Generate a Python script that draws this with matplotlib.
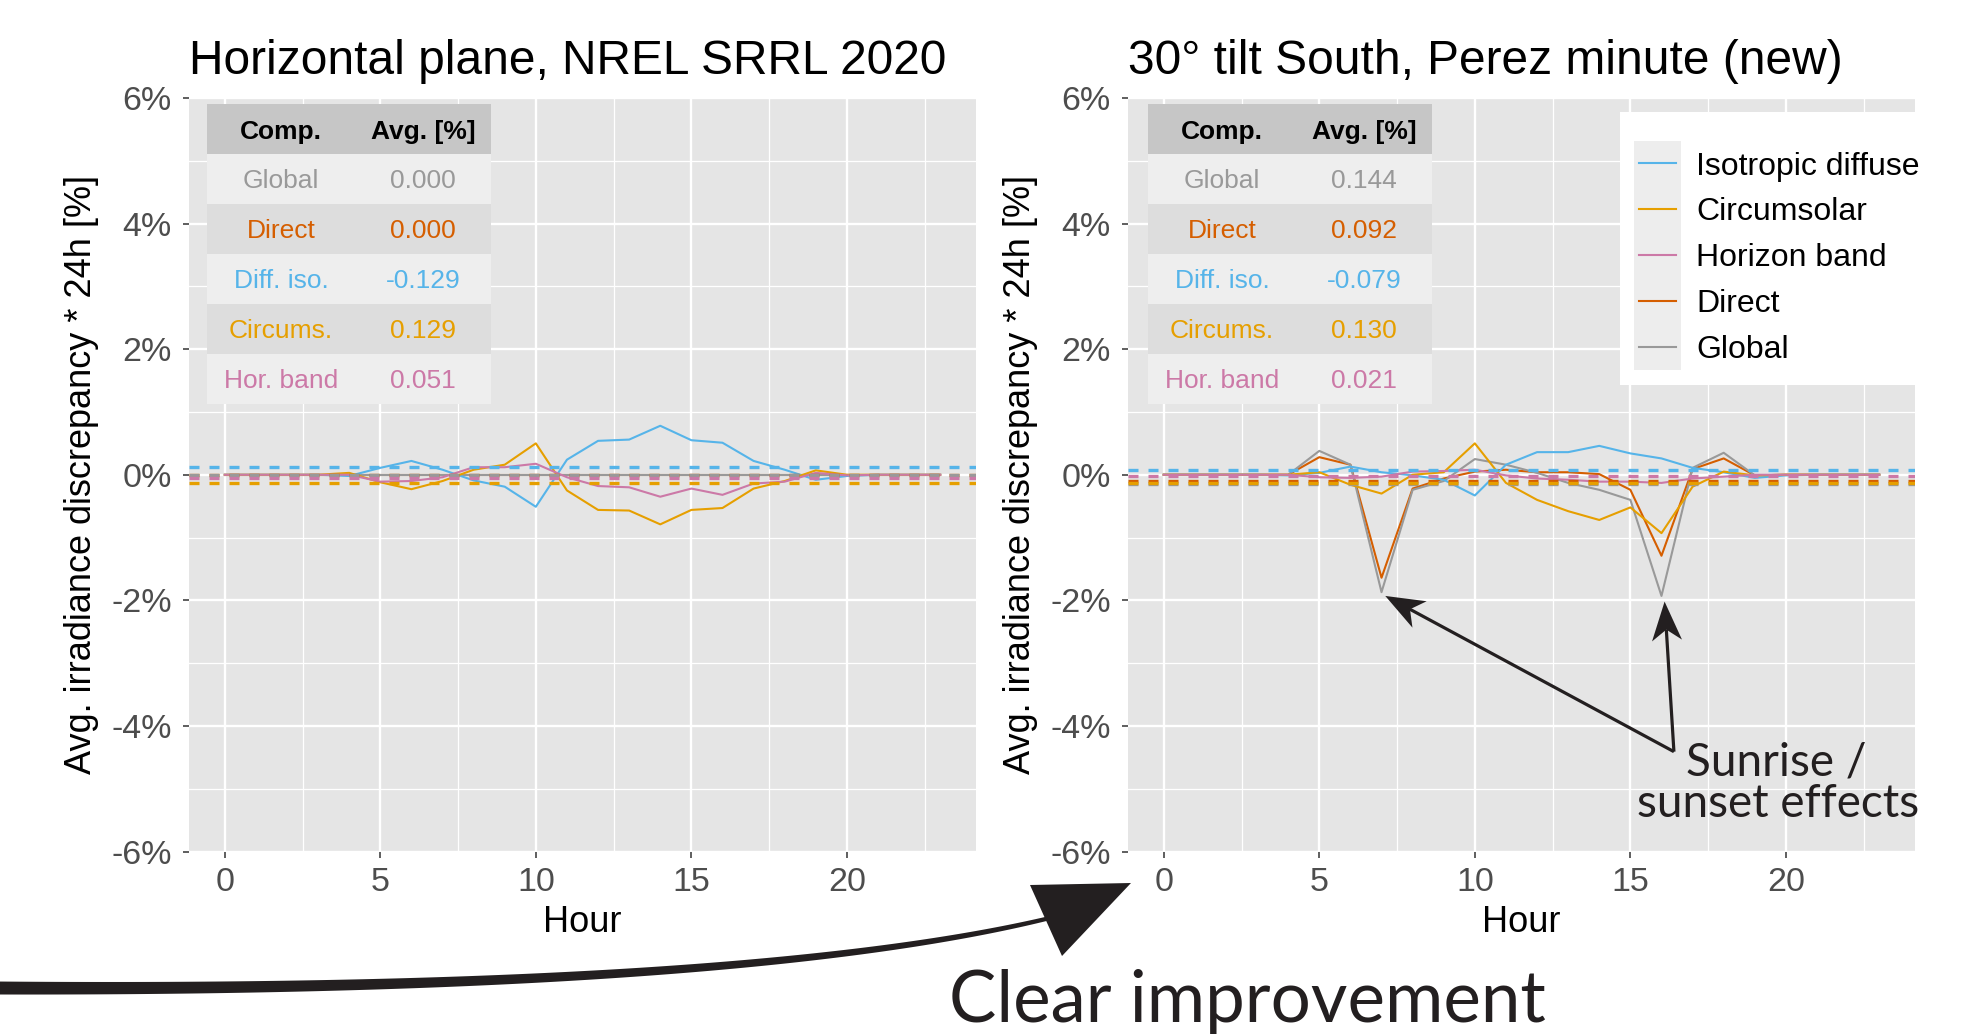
import numpy as np
import matplotlib.pyplot as plt
from matplotlib.patches import Rectangle, Polygon
from matplotlib.lines import Line2D
from matplotlib.transforms import Affine2D, IdentityTransform

plt.rcParams['font.family'] = ['Liberation Sans', 'DejaVu Sans']

W, H = 1972, 1034
INK = '#231F20'

hours = np.arange(24)
comp_colors = {'Isotropic diffuse': '#56B4E9', 'Circumsolar': '#E69F00',
               'Horizon band': '#CC79A7', 'Direct': '#D55E00', 'Global': '#999999'}
legend_order = ['Isotropic diffuse', 'Circumsolar', 'Horizon band', 'Direct', 'Global']
draw_order = ['Direct', 'Global', 'Isotropic diffuse', 'Circumsolar', 'Horizon band']

# hourly discrepancy [%], horizontal plane (NREL SRRL 2020)
left_iso = [0, 0, 0, 0, -0.02, 0.11, 0.22, 0.08, -0.09, -0.19, -0.51, 0.24,
            0.54, 0.56, 0.78, 0.55, 0.51, 0.22, 0.08, -0.08, -0.02, 0, 0, 0]
left_circ = [0, 0, 0, 0, 0.03, -0.12, -0.23, -0.10, 0.08, 0.16, 0.50, -0.25,
             -0.56, -0.57, -0.79, -0.56, -0.53, -0.22, -0.10, 0.07, 0, 0, 0, 0]
left_hor = [0, 0, 0, 0, 0, -0.11, -0.10, -0.04, 0.12, 0.12, 0.175, -0.04,
            -0.18, -0.20, -0.35, -0.22, -0.32, -0.14, -0.11, 0.03, -0.01, 0, 0, 0]
left_direct = [0] * 24
left_global = [0] * 24

# hourly discrepancy [%], 30 deg tilt south (Perez minute)
right_iso = [0, 0, 0, 0, -0.01, 0.03, 0.13, 0.04, -0.01, -0.08, -0.33, 0.16,
             0.36, 0.36, 0.46, 0.34, 0.26, 0.11, 0.04, -0.05, -0.01, 0, 0, 0]
right_circ = [0, 0, 0, 0, 0, 0.04, -0.16, -0.30, 0.0, 0.04, 0.50, -0.13,
              -0.40, -0.58, -0.72, -0.52, -0.93, -0.19, 0.05, -0.01, 0, 0, 0, 0]
right_hor = [0, 0, 0, 0, 0, -0.04, -0.05, -0.03, 0.05, 0.06, 0.08, -0.01,
             -0.06, -0.08, -0.11, -0.11, -0.13, -0.06, -0.03, 0, 0, 0, 0, 0]
right_direct = [0, 0, 0, 0, 0, 0.28, 0.16, -1.64, -0.22, -0.06, 0.05, 0.08,
                0.04, 0.04, 0.01, -0.24, -1.29, 0.09, 0.26, -0.01, 0, 0, 0, 0]
right_global = [0, 0, 0, 0, 0, 0.38, 0.16, -1.87, -0.24, -0.10, 0.25, 0.16,
                0.03, -0.13, -0.24, -0.40, -1.93, 0.11, 0.35, -0.01, 0, 0, 0, 0]

# table averages (table order)
table_comps = ['Global', 'Direct', 'Isotropic diffuse', 'Circumsolar', 'Horizon band']
table_labels = ['Global', 'Direct', 'Diff. iso.', 'Circums.', 'Hor. band']
left_avg = [0.000, 0.000, -0.129, 0.129, 0.051]
right_avg = [0.144, 0.092, -0.079, 0.130, 0.021]

xticks = [0, 5, 10, 15, 20]
yticks = [-6, -4, -2, 0, 2, 4, 6]
ytick_labels = ['-6%', '-4%', '-2%', '0%', '2%', '4%', '6%']

titles = ['Horizontal plane, NREL SRRL 2020', '30° tilt South, Perez minute (new)']

fig = plt.figure(figsize=(W / 100, H / 100), dpi=100)
px = Affine2D().scale(1 / W, -1 / H).translate(0, 1) + fig.transFigure


def plot_panel(ax, series, avgs):
    ax.set_facecolor('#E5E5E5')
    for name in draw_order:
        ax.plot(hours, series[name], color=comp_colors[name], lw=1.5, zorder=3)
    # dashed lines at the negated table averages
    for name in draw_order:
        ax.axhline(-avgs[table_comps.index(name)], color=comp_colors[name],
                   lw=2.4, dashes=(3, 3), zorder=4)
    ax.set_xlim(-1.15, 24.15)
    ax.set_ylim(-6, 6)
    ax.set_xticks(xticks)
    ax.set_xticks([2.5, 7.5, 12.5, 17.5, 22.5], minor=True)
    ax.set_yticks(yticks)
    ax.set_yticklabels(ytick_labels)
    ax.set_yticks([-5, -3, -1, 1, 3, 5], minor=True)
    ax.grid(which='major', color='white', lw=1.7)
    ax.grid(which='minor', color='white', lw=0.9)
    ax.set_axisbelow(True)
    for s in ax.spines.values():
        s.set_visible(False)
    ax.tick_params(which='major', length=4.3, width=1.1, color='#333333',
                   labelsize=24.5, labelcolor='#4D4D4D')
    ax.tick_params(which='minor', length=0)
    ax.tick_params(axis='x', pad=6.8)
    ax.tick_params(axis='y', pad=8)
    ax.set_ylabel('Avg. irradiance discrepancy * 24h [%]', fontsize=26, va='center')
    ax.yaxis.set_label_coords(-0.136, 0.5)
    ax.set_xlabel('Hour', fontsize=26, va='baseline')
    ax.xaxis.set_label_coords(0.5, -0.107)


def draw_table(x0, avgs):
    col_w = [148, 136]
    row_h = 50
    y0 = 104
    fills = ['#C6C6C6', '#EEEEEE', '#DDDDDD', '#EEEEEE', '#DDDDDD', '#EEEEEE']
    fig.add_artist(Rectangle((x0, y0), sum(col_w), row_h, transform=px,
                             color=fills[0], lw=0))
    fig.text(x0 + col_w[0] / 2, y0 + row_h / 2, 'Comp.', transform=px, ha='center',
             va='center_baseline', fontsize=19, fontweight='bold')
    fig.text(x0 + col_w[0] + col_w[1] / 2, y0 + row_h / 2, 'Avg. [%]', transform=px,
             ha='center', va='center_baseline', fontsize=19, fontweight='bold')
    for i, (lab, comp, v) in enumerate(zip(table_labels, table_comps, avgs)):
        y = y0 + (i + 1) * row_h
        fig.add_artist(Rectangle((x0, y), sum(col_w), row_h, transform=px,
                                 color=fills[i + 1], lw=0))
        c = comp_colors[comp]
        fig.text(x0 + col_w[0] / 2, y + row_h / 2, lab, transform=px, ha='center',
                 va='center_baseline', fontsize=19, color=c)
        fig.text(x0 + col_w[0] + col_w[1] / 2, y + row_h / 2, f'{v:.3f}', transform=px,
                 ha='center', va='center_baseline', fontsize=19, color=c)


ax1 = fig.add_axes([189 / W, 1 - 851.5 / H, 787 / W, 753.5 / H])
ax2 = fig.add_axes([1128 / W, 1 - 851.5 / H, 787 / W, 753.5 / H])

plot_panel(ax1, {'Isotropic diffuse': left_iso, 'Circumsolar': left_circ,
                 'Horizon band': left_hor, 'Direct': left_direct,
                 'Global': left_global}, left_avg)
plot_panel(ax2, {'Isotropic diffuse': right_iso, 'Circumsolar': right_circ,
                 'Horizon band': right_hor, 'Direct': right_direct,
                 'Global': right_global}, right_avg)

fig.text(189, 74, titles[0], transform=px, fontsize=34.5, va='baseline', ha='left')
fig.text(1128, 74, titles[1], transform=px, fontsize=34.5, va='baseline', ha='left')

draw_table(207, left_avg)
draw_table(1148, right_avg)

# legend (right panel)
fig.add_artist(Rectangle((1620, 112), 360, 273, transform=px, color='white', lw=0))
fig.add_artist(Rectangle((1634, 141), 47, 229, transform=px, color='#EDEDED', lw=0))
for i, name in enumerate(legend_order):
    y = 163 + i * 46
    fig.add_artist(Line2D([1639, 1676], [y, y], transform=px,
                          color=comp_colors[name], lw=1.5))
    fig.text(1696, y, name, transform=px, fontsize=23, va='center_baseline')


# sunrise / sunset arrows on the right panel
def arrow(tail, tip, L=39, Wd=15):
    s = ax2.transData.transform(tail)
    t = ax2.transData.transform(tip)
    u = (t - s) / np.hypot(*(t - s))
    n = np.array([-u[1], u[0]])
    notch = t - 0.72 * L * u
    head = [t, t - L * u + Wd * n, notch, t - L * u - Wd * n]
    fig.add_artist(Line2D([s[0], notch[0]], [s[1], notch[1]], transform=IdentityTransform(),
                          color=INK, lw=2.3, solid_capstyle='butt', zorder=5))
    fig.add_artist(Polygon(head, closed=True, transform=IdentityTransform(),
                           color=INK, lw=0, zorder=5))


arrow((16.4, -4.41), (7.12, -1.93))
arrow((16.4, -4.41), (16.1, -2.02))
fig.text(1776, 775, 'Sunrise /', transform=px, fontfamily='Lato', fontsize=33,
         ha='center', va='baseline', color=INK)
fig.text(1778, 817, 'sunset effects', transform=px, fontfamily='Lato', fontsize=33,
         ha='center', va='baseline', color=INK)

# big curved arrow to the right panel
t = np.linspace(0, 1, 120)[:, None]
P0, P1, P2 = np.array([-5, 988]), np.array([760, 992]), np.array([1062, 915])
c = (1 - t) ** 2 * P0 + 2 * (1 - t) * t * P1 + t ** 2 * P2
d = 2 * (1 - t) * (P1 - P0) + 2 * t * (P2 - P1)
nrm = np.column_stack([-d[:, 1], d[:, 0]]) / np.hypot(d[:, 0], d[:, 1])[:, None]
half = 6.5 - 4.5 * t
outline = np.vstack([c + nrm * half, (c - nrm * half)[::-1]])
fig.add_artist(Polygon(outline, closed=True, transform=px, color=INK, lw=0))
fig.add_artist(Polygon([(1030, 885), (1131, 883), (1062, 956)], closed=True,
                       transform=px, color=INK, lw=0))
fig.text(1247, 1022, 'Clear improvement', transform=px, fontfamily='Lato', fontsize=51,
         ha='center', va='baseline', color=INK)

fig.savefig('out.png', dpi=100)
